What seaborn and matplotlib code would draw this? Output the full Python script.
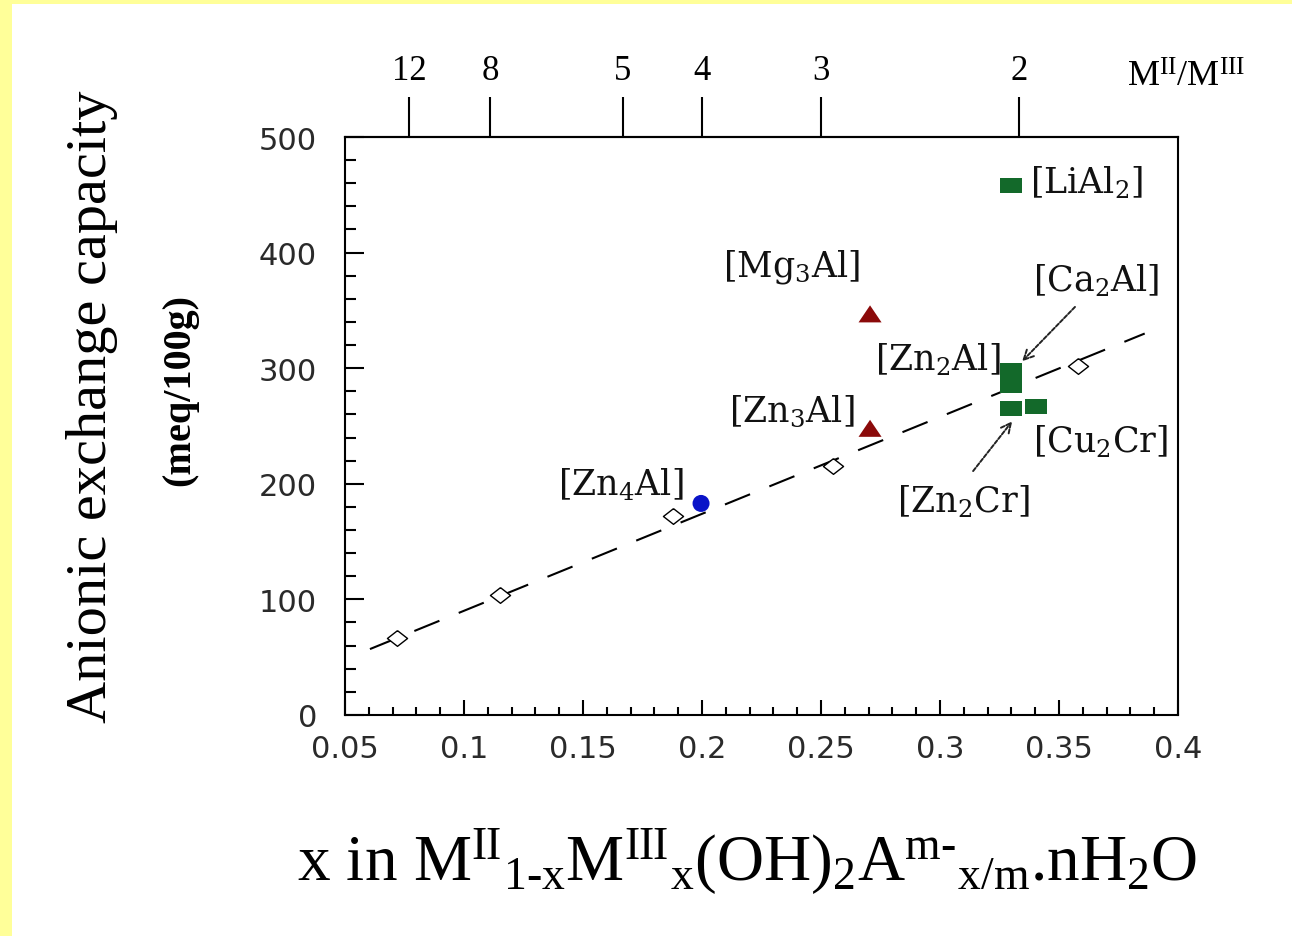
import numpy as np
import pandas as pd
import matplotlib
matplotlib.use('Agg')
import matplotlib.pyplot as plt
import seaborn as sns
from matplotlib.patches import Rectangle
from matplotlib.ticker import MultipleLocator, FuncFormatter, NullLocator

# values
ref_x = [0.072, 0.115, 0.188, 0.255, 0.358]
ref_y = [67, 104, 172, 215, 302]
fit_x = [0.0605, 0.386]
fit_y = [57, 330]

compounds = ['Zn4Al', 'Zn3Al', 'Mg3Al', 'Zn2Al', 'Ca2Al', 'Zn2Cr', 'Cu2Cr', 'LiAl2']
comp_x = [0.1996, 0.2706, 0.2706, 0.330, 0.330, 0.330, 0.3405, 0.330]
comp_y = [183, 248, 347, 298, 285, 265, 267, 458]
comp_group = ['M4', 'M3', 'M3', 'M2', 'M2', 'M2', 'M2', 'M2']

ratio_ticks = [12, 8, 5, 4, 3, 2]

plt.rcParams.update({
    'mathtext.fontset': 'custom',
    'mathtext.rm': 'Liberation Serif',
    'mathtext.it': 'Liberation Serif:italic',
    'mathtext.bf': 'Liberation Serif:bold',
})

df = pd.DataFrame({'compound': compounds, 'x': comp_x, 'y': comp_y, 'group': comp_group})
df_ref = pd.DataFrame({'x': ref_x, 'y': ref_y})
df_fit = pd.DataFrame({'x': fit_x, 'y': fit_y})

fig = plt.figure(figsize=(12.92, 9.37), dpi=100)
fig.patch.set_facecolor('#FFFF99')
fig.add_artist(Rectangle((12 / 1292, 0), 1, 932 / 937, transform=fig.transFigure,
                         facecolor='white', edgecolor='none', zorder=-1))
ax = fig.add_axes([0.267, 0.2359, 0.6448, 0.6168])

# marker shapes
rect = [(-1, -0.68), (1, -0.68), (1, 0.68), (-1, 0.68), (-1, -0.68)]
tri = [(0, 0.74), (-1, -0.74), (1, -0.74), (0, 0.74)]
diam = [(0, 0.78), (1, 0), (0, -0.78), (-1, 0), (0, 0.78)]

sns.lineplot(data=df_fit, x='x', y='y', color='black', lw=1.5,
             linestyle=(0, (13, 10)), ax=ax, zorder=2)
sns.scatterplot(data=df_ref, x='x', y='y', marker=diam, s=210, facecolor='white',
                edgecolor='black', linewidth=1, ax=ax, zorder=3)
sns.scatterplot(data=df, x='x', y='y', hue='group', style='group', size='group',
                palette={'M4': '#0a14c8', 'M3': '#8b0a0a', 'M2': '#13692a'},
                markers={'M4': 'o', 'M3': tri, 'M2': rect},
                sizes={'M4': 150, 'M3': 275, 'M2': 250},
                linewidth=0, legend=False, ax=ax, zorder=4)

ax.set_xlim(0.05, 0.4)
ax.set_ylim(0, 500)
ax.set_xlabel('')
ax.set_ylabel('')
ax.xaxis.set_major_locator(MultipleLocator(0.05))
ax.xaxis.set_minor_locator(MultipleLocator(0.01))
ax.yaxis.set_major_locator(MultipleLocator(100))
ax.yaxis.set_minor_locator(MultipleLocator(20))
ax.xaxis.set_major_formatter(FuncFormatter(lambda v, p: '%g' % round(v, 3)))
ax.yaxis.set_major_formatter(FuncFormatter(lambda v, p: '%d' % v))
for s in ax.spines.values():
    s.set_linewidth(1.5)
ax.tick_params(which='both', direction='in', top=False, right=False, width=1.5,
               labelsize=22, labelcolor='#2a2a2a')
ax.tick_params(axis='y', which='major', length=14, pad=20)
ax.tick_params(axis='y', which='minor', length=8)
ax.tick_params(axis='x', which='major', length=11, pad=14)
ax.tick_params(axis='x', which='minor', length=6)


def x_to_ratio(x):
    x = np.asarray(x, dtype=float)
    with np.errstate(divide='ignore', invalid='ignore'):
        return np.where(x > 0, (1 - x) / np.where(x > 0, x, 1), 1e6)


def ratio_to_x(r):
    r = np.asarray(r, dtype=float)
    return 1 / (1 + r)


sec = ax.secondary_xaxis('top', functions=(x_to_ratio, ratio_to_x))
sec.set_xticks(ratio_ticks)
sec.set_xticklabels([str(r) for r in ratio_ticks])
sec.xaxis.set_minor_locator(NullLocator())
sec.tick_params(direction='out', length=29, width=1.5, pad=7, labelsize=25)
for lab in sec.get_xticklabels():
    lab.set_fontfamily('Liberation Serif')
sec.spines['top'].set_linewidth(1.5)

# compound labels
lab_kw = dict(fontsize=25, fontfamily='DejaVu Serif', math_fontfamily='dejavuserif',
              va='center', color='#111111')
ax.text(0.3378, 461, r'[LiAl$_2$]', ha='left', **lab_kw)
ax.text(0.2374, 388, r'[Mg$_3$Al]', ha='center', **lab_kw)
ax.text(0.339, 377, r'[Ca$_2$Al]', ha='left', **lab_kw)
ax.text(0.3255, 308, r'[Zn$_2$Al]', ha='right', **lab_kw)
ax.text(0.2643, 263, r'[Zn$_3$Al]', ha='right', **lab_kw)
ax.text(0.339, 237, r'[Cu$_2$Cr]', ha='left', **lab_kw)
ax.text(0.3097, 185, r'[Zn$_2$Cr]', ha='center', **lab_kw)
ax.text(0.1922, 200, r'[Zn$_4$Al]', ha='right', **lab_kw)

arrow_kw = dict(arrowstyle='->,head_length=0.7,head_width=0.35', color='#222222',
                lw=1.4, linestyle=(0, (2, 1)), shrinkA=0, shrinkB=0)
ax.annotate('', xy=(0.3345, 306), xytext=(0.3567, 353), arrowprops=arrow_kw)
ax.annotate('', xy=(0.3303, 254), xytext=(0.3139, 211), arrowprops=arrow_kw)

# axis titles
fig.text(92 / 1292, 1 - 407 / 937, 'Anionic exchange capacity', rotation=90,
         ha='center', va='center', fontsize=42, fontfamily='Liberation Serif')
fig.text(180 / 1292, 1 - 390 / 937, '(meq/100g)', rotation=90, ha='center',
         va='center', fontsize=29, fontweight='bold', fontfamily='Liberation Serif')
fig.text(0.5786, 1 - 862 / 937,
         r'x in M$^{\mathrm{II}}$$_{\text{1-x}}$M$^{\mathrm{III}}$$_{\mathrm{x}}$'
         r'(OH)$_{\mathrm{2}}$A$^{\text{m-}}$$_{\mathrm{x/m}}$.nH$_{\mathrm{2}}$O',
         ha='center', va='center', fontsize=47, fontfamily='Liberation Serif')
fig.text(1186 / 1292, 1 - 78 / 937, r'M$^{\mathrm{II}}$/M$^{\mathrm{III}}$',
         ha='center', va='center', fontsize=26, fontfamily='Liberation Serif')

fig.savefig('out.png', dpi=100, facecolor=fig.get_facecolor())
